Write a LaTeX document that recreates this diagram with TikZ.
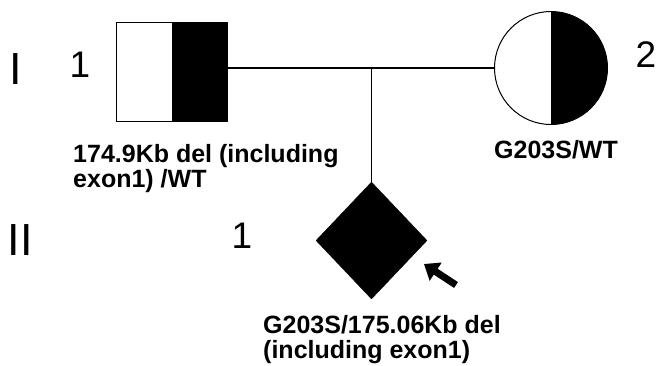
\documentclass[tikz,border=0pt]{standalone}
\usepackage{fontspec}
\setmainfont{Liberation Sans}
\usetikzlibrary{shapes.geometric,arrows.meta}
\tikzset{
  gen/.style={font=\fontsize{45}{45}\selectfont, inner sep=0pt, anchor=base},
  idnum/.style={font=\fontsize{37}{37}\selectfont, inner sep=0pt, anchor=base},
  geno/.style={font=\bfseries\fontsize{25}{25}\selectfont, inner sep=0pt, align=left, anchor=base west},
  halffill/.style={draw=black, line width=1pt, fill=white,
    path picture={\fill[black] (path picture bounding box.north) rectangle (path picture bounding box.south east);}},
  rel/.style={draw=black, line width=1.2pt},
  proband/.style={line width=7pt, -{Triangle[length=14pt,width=21pt]}}
}
\begin{document}
\begin{tikzpicture}[x=1pt,y=-1pt]
\useasboundingbox (0,0) rectangle (656,365);
% individuals
\node[halffill, rectangle, minimum width=111pt, minimum height=99pt, inner sep=0pt] (f) at (171.5,71.5) {};
\node[halffill, circle, minimum size=113pt, inner sep=0pt] (m) at (551,68) {};
\node[diamond, fill=black, draw=black, minimum width=111pt, minimum height=117pt, inner sep=0pt] (c) at (371.5,240.5) {};
% relationship lines
\draw[rel] (m.west) -- (m.west -| f.east);
\coordinate (j) at (c.north |- m.west);
\draw[rel] (j) -- (c.north);
% proband arrow
\coordinate (at) at (456,285);
\coordinate (ah) at (424,264);
\draw[proband] (at) -- (ah);
% generation labels
\node[gen] (g1) at (16,84) {I};
\node[gen] (g2) at (20,255) {II};
% individual numbers
\node[idnum] (n1) at (80,77) {1};
\node[idnum] (n2) at (646,67) {2};
\node[idnum] (n3) at (242,248) {1};
% genotypes
\node[geno] (lf) at (73,187) {174.9Kb del (including\\exon1) /WT};
\node[geno, anchor=base] (lm) at (556,158) {G203S/WT};
\node[geno] (lc) at (263,358) {G203S/175.06Kb del\\(including exon1)};
\end{tikzpicture}
\end{document}
